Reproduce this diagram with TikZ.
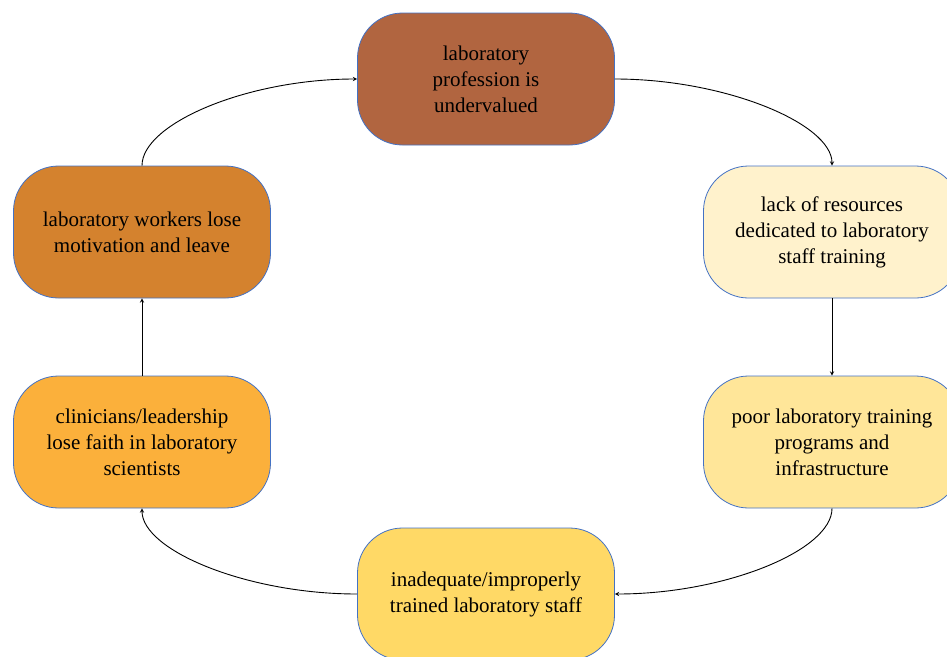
\documentclass[tikz,border=0pt]{standalone}
\usepackage{fontspec}
\setmainfont{Liberation Serif}
\definecolor{edgeblue}{RGB}{68,114,196}
\definecolor{brownbox}{RGB}{177,101,64}
\definecolor{creambox}{RGB}{255,242,204}
\definecolor{paleyellow}{RGB}{255,230,153}
\definecolor{yellowbox}{RGB}{255,217,102}
\definecolor{orangebox}{RGB}{251,176,59}
\definecolor{darkorange}{RGB}{212,130,46}
\tikzset{
  cyclebox/.style={draw=edgeblue,line width=0.8pt,rounded corners=45pt,minimum width=257pt,minimum height=132pt,align=center,font=\fontsize{21}{26}\selectfont},
  cyclearrow/.style={line width=0.9pt,-stealth}
}
\begin{document}
\begin{tikzpicture}[x=1pt,y=-1pt]
\useasboundingbox (0,0) rectangle (947,656);
  \node[cyclebox,fill=brownbox] (prof) at (486,79) {laboratory\\profession is\\undervalued};
  \node[cyclebox,fill=creambox] (lack) at (832,232) {lack of resources\\dedicated to laboratory\\staff training};
  \node[cyclebox,fill=paleyellow] (poor) at (832,442) {poor laboratory training\\programs and\\infrastructure};
  \node[cyclebox,fill=yellowbox] (inadeq) at (486,594) {inadequate/improperly\\trained laboratory staff};
  \node[cyclebox,fill=orangebox] (faith) at (142,442) {clinicians/leadership\\lose faith in laboratory\\scientists};
  \node[cyclebox,fill=darkorange] (leave) at (142,232) {laboratory workers lose\\motivation and leave};

 \draw[cyclearrow] (prof.east) .. controls +(110,0) and +(0,-42) .. (lack.north);
 \draw[cyclearrow] (lack.south)--(poor.north);
 \draw[cyclearrow] (poor.south) .. controls +(0,42) and +(110,0) .. (inadeq.east);
 \draw[cyclearrow] (inadeq.west) .. controls +(-110,0) and +(0,42) .. (faith.south);
 \draw[cyclearrow] (faith.north)--(leave.south);
 \draw[cyclearrow] (leave.north) .. controls +(0,-42) and +(-110,0) .. (prof.west);
\end{tikzpicture}
\end{document}
